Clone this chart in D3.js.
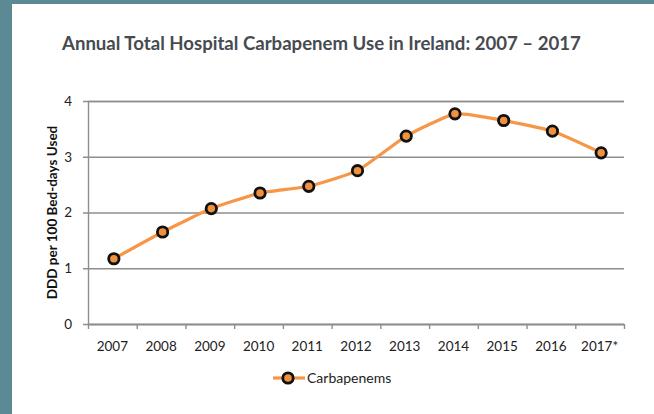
<!DOCTYPE html>
<html>
<head>
<meta charset="utf-8">
<script src="https://cdn.jsdelivr.net/npm/d3@7"></script>
<style>
  html, body { margin: 0; padding: 0; background: #fff; }
  svg { display: block; }
</style>
</head>
<body>
<div id="chart"></div>
<script>
// chart data
var years = ["2007", "2008", "2009", "2010", "2011", "2012", "2013", "2014", "2015", "2016", "2017*"];
var carbapenems = [1.17, 1.65, 2.07, 2.35, 2.47, 2.75, 3.37, 3.77, 3.65, 3.46, 3.07];
var yTicks = [0, 1, 2, 3, 4];
var seriesName = "Carbapenems";

var width = 654, height = 414;
var plotLeft = 88, plotRight = 624, plotTop = 101, plotBottom = 324;
var orange = "#f79646", grid = "#8e8e8e";

var svg = d3.select("#chart").append("svg")
    .attr("width", width)
    .attr("height", height);

// frame
svg.append("rect").attr("width", width).attr("height", height).attr("fill", "#5b8a95");
svg.append("rect").attr("x", 12).attr("y", 4).attr("width", width - 12).attr("height", height - 4).attr("fill", "#fff");

svg.append("text")
    .attr("x", 62).attr("y", 50)
    .style("font-family", "Lato")
    .style("font-weight", "bold")
    .style("font-size", "18.6px")
    .attr("fill", "#464b51")
    .text("Annual Total Hospital Carbapenem Use in Ireland: 2007 \u2013 2017");

var x = d3.scaleBand().domain(years).range([plotLeft, plotRight]).padding(0);
var xEdge = d3.scaleLinear().domain([0, years.length]).range([plotLeft, plotRight]);
var y = d3.scaleLinear().domain([0, 4]).range([plotBottom, plotTop]);

// gridlines + y labels
var yAxis = svg.append("g")
    .attr("transform", "translate(" + plotLeft + ",0)")
    .call(d3.axisLeft(y).tickValues(yTicks).tickFormat(d3.format("d"))
        .tickSize(-(plotRight - plotLeft)).tickPadding(16));
yAxis.select(".domain").attr("stroke", grid).attr("stroke-width", 1.4);
yAxis.selectAll(".tick line").attr("x1", -5).attr("stroke", grid).attr("stroke-width", 1.4);
yAxis.selectAll(".tick text")
    .style("font-family", "Lato")
    .style("font-size", "13.5px")
    .attr("fill", "#222");

// x tick marks on the category edges
var xTickAxis = svg.append("g")
    .attr("transform", "translate(0," + plotBottom + ")")
    .call(d3.axisBottom(xEdge).ticks(years.length).tickFormat("").tickSize(5).tickSizeOuter(0));
xTickAxis.select(".domain").attr("stroke", grid).attr("stroke-width", 1.4);
xTickAxis.selectAll(".tick line").attr("stroke", grid).attr("stroke-width", 1.4);

// x labels
var xAxis = svg.append("g")
    .attr("transform", "translate(0," + plotBottom + ")")
    .call(d3.axisBottom(x).tickSize(0).tickPadding(17));
xAxis.select(".domain").remove();
xAxis.selectAll(".tick text")
    .style("font-family", "Lato")
    .style("font-size", "13.5px")
    .attr("fill", "#222");

svg.append("text")
    .attr("transform", "translate(56.5," + ((plotTop + plotBottom) / 2) + ") rotate(-90)")
    .attr("text-anchor", "middle")
    .style("font-family", "Lato")
    .style("font-weight", "bold")
    .style("font-size", "13.5px")
    .attr("fill", "#111")
    .text("DDD per 100 Bed-days Used");

// series
var cx = function(d, i) { return x(years[i]) + x.bandwidth() / 2 + 1.5; };
var line = d3.line()
    .x(cx)
    .y(function(d) { return y(d); })
    .curve(d3.curveCardinal.tension(0.55));

svg.append("path")
    .datum(carbapenems)
    .attr("d", line)
    .attr("fill", "none")
    .attr("stroke", orange)
    .attr("stroke-width", 3.2);

svg.selectAll("circle.pt")
    .data(carbapenems)
    .enter().append("circle")
    .attr("class", "pt")
    .attr("cx", cx)
    .attr("cy", function(d) { return y(d); })
    .attr("r", 5.2)
    .attr("fill", "#f0913f")
    .attr("stroke", "#111")
    .attr("stroke-width", 2.8);

// legend
var legend = svg.append("g").attr("transform", "translate(288,378)");
legend.append("line").attr("x1", -15).attr("x2", 17).attr("stroke", orange).attr("stroke-width", 3.2);
legend.append("circle").attr("r", 5.2).attr("fill", "#f0913f").attr("stroke", "#111").attr("stroke-width", 2.8);
legend.append("text")
    .attr("x", 19).attr("y", 5)
    .style("font-family", "Lato")
    .style("font-size", "14px")
    .attr("fill", "#222")
    .text(seriesName);
</script>
</body>
</html>
